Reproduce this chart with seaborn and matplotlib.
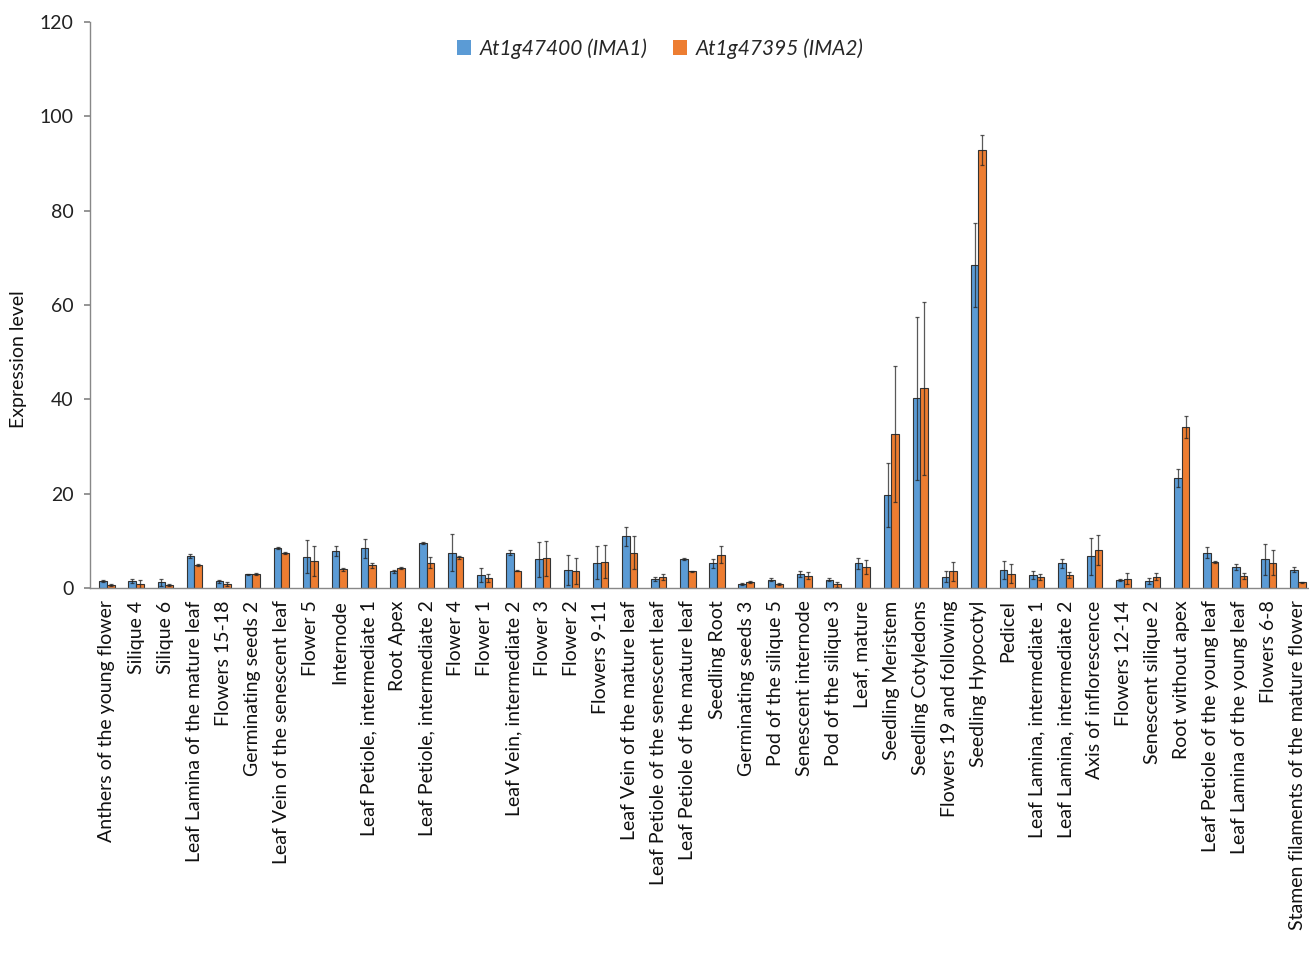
import matplotlib
matplotlib.use("Agg")
import matplotlib.pyplot as plt
import seaborn as sns
import pandas as pd
import numpy as np

categories = [
    "Anthers of the young flower", "Silique 4", "Silique 6", "Leaf Lamina of the mature leaf",
    "Flowers 15-18", "Germinating seeds 2", "Leaf Vein of the senescent leaf", "Flower 5",
    "Internode", "Leaf Petiole, intermediate 1", "Root Apex", "Leaf Petiole, intermediate 2",
    "Flower 4", "Flower 1", "Leaf Vein, intermediate 2", "Flower 3", "Flower 2", "Flowers 9-11",
    "Leaf Vein of the mature leaf", "Leaf Petiole of the senescent leaf", "Leaf Petiole of the mature leaf",
    "Seedling Root", "Germinating seeds 3", "Pod of the silique 5", "Senescent internode",
    "Pod of the silique 3", "Leaf, mature", "Seedling Meristem", "Seedling Cotyledons",
    "Flowers 19 and following", "Seedling Hypocotyl", "Pedicel", "Leaf Lamina, intermediate 1",
    "Leaf Lamina, intermediate 2", "Axis of inflorescence", "Flowers 12-14", "Senescent silique 2",
    "Root without apex", "Leaf Petiole of the young leaf", "Leaf Lamina of the young leaf",
    "Flowers 6-8", "Stamen filaments of the mature flower",
]
ima1 = [1.5, 1.5, 1.2, 6.8, 1.4, 2.9, 8.5, 6.6, 7.8, 8.4, 3.5, 9.6, 7.5, 2.8, 7.5, 6.1, 3.9, 5.4,
        11.0, 1.9, 6.2, 5.2, 0.9, 1.8, 3.0, 1.8, 5.2, 19.8, 40.2, 2.4, 68.5, 3.9, 2.8, 5.2, 6.7,
        1.7, 1.5, 23.3, 7.5, 4.5, 6.1, 3.9]
ima1_err = [0.2, 0.4, 0.8, 0.5, 0.3, 0.1, 0.2, 3.5, 1.0, 2.0, 0.3, 0.2, 4.0, 1.5, 0.6, 3.7, 3.2, 3.4,
            2.0, 0.5, 0.2, 1.0, 0.2, 0.4, 0.6, 0.3, 1.1, 6.8, 17.2, 1.1, 8.9, 1.9, 0.8, 0.9, 3.9,
            0.3, 0.7, 1.9, 1.1, 0.6, 3.3, 0.6]
ima2 = [0.6, 0.8, 0.6, 4.8, 0.9, 2.9, 7.4, 5.7, 4.0, 4.8, 4.2, 5.4, 6.5, 2.1, 3.7, 6.3, 3.6, 5.6,
        7.5, 2.3, 3.5, 7.1, 1.2, 0.8, 2.6, 0.8, 4.5, 32.6, 42.3, 3.5, 92.8, 3.0, 2.3, 2.7, 8.1,
        2.0, 2.4, 34.1, 5.6, 2.5, 5.4, 1.2]
ima2_err = [0.2, 0.8, 0.2, 0.2, 0.4, 0.2, 0.2, 3.2, 0.3, 0.6, 0.2, 1.1, 0.3, 0.8, 0.2, 3.7, 2.7, 3.5,
            3.5, 0.7, 0.1, 1.7, 0.2, 0.2, 0.7, 0.5, 1.5, 14.4, 18.4, 2.0, 3.2, 2.0, 0.7, 0.6, 3.2,
            1.2, 0.8, 2.3, 0.2, 0.6, 2.7, 0.1]
series_names = ["At1g47400 (IMA1)", "At1g47395 (IMA2)"]
colors = ["#5B9BD5", "#ED7D31"]
yticks = [0, 20, 40, 60, 80, 100, 120]

df = pd.DataFrame({
    "cat": categories * 2,
    "val": ima1 + ima2,
    "err": ima1_err + ima2_err,
    "series": [series_names[0]] * len(categories) + [series_names[1]] * len(categories),
})

sns.set_theme(style="white")
plt.rcParams["font.family"] = ["Lato", "DejaVu Sans"]

fig = plt.figure(figsize=(13.09, 9.67), dpi=100)
ax = fig.add_axes([90 / 1309, 1 - 588 / 967, (1309 - 90) / 1309, (588 - 22) / 967])

sns.barplot(data=df, x="cat", y="val", hue="series", palette=colors, width=0.52, gap=0,
            saturation=1, edgecolor="#333333", linewidth=0.8, errorbar=None, ax=ax, legend=True)

errs = [ima1_err, ima2_err]
vals = [ima1, ima2]
for ci, cont in enumerate(ax.containers[:2]):
    xs = [p.get_x() + p.get_width() / 2 for p in cont.patches]
    ax.errorbar(xs, vals[ci], yerr=errs[ci], fmt="none", ecolor="#222222",
                elinewidth=0.9, capsize=1.5, capthick=0.9, alpha=0.75)

ax.set_xlim(-0.585, 41.38)
ax.set_ylim(0, 120)
ax.set_yticks(yticks)
ax.set_yticklabels([str(t) for t in yticks], fontsize=14, color="#222222")
ax.set_xticks(range(len(categories)))
ax.set_xticklabels(categories, rotation=90, fontsize=14, color="#111111")
ax.set_xlabel("")
ax.set_ylabel("Expression level", fontsize=14, color="#111111")
ax.yaxis.set_label_coords(-0.052, 0.405)
ax.tick_params(axis="y", which="both", left=True, length=4, color="#888888", pad=8)
ax.tick_params(axis="x", which="both", bottom=False, pad=3)
for s in ["top", "right"]:
    ax.spines[s].set_visible(False)
for s in ["left", "bottom"]:
    ax.spines[s].set_color("#888888")
    ax.spines[s].set_linewidth(1.0)

leg = ax.legend(loc="upper center", bbox_to_anchor=(0.4676, 1.005), ncol=2, frameon=False,
                prop={"style": "italic", "size": 15}, handlelength=0.7, handleheight=0.7,
                columnspacing=1.2, handletextpad=0.4)
for h in leg.legend_handles:
    h.set_edgecolor("none")

fig.savefig("out.png", dpi=100)
